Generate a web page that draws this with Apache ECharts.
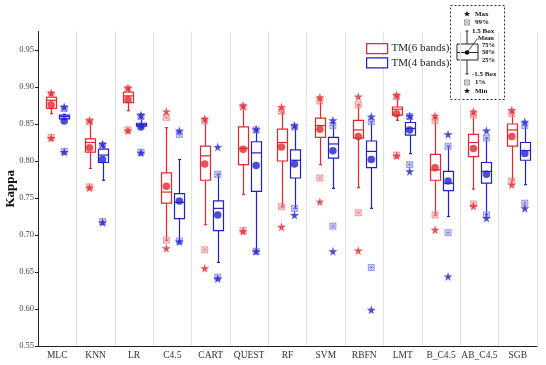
<!DOCTYPE html>
<html>
<head>
<meta charset="utf-8">
<script src="https://cdn.jsdelivr.net/npm/echarts@6/dist/echarts.min.js"></script>
<style>html,body{margin:0;padding:0;background:#fff}#c{width:546px;height:365px}</style>
</head>
<body>
<div id="c"></div>
<script>
const categories = ['MLC','KNN','LR','C4.5','CART','QUEST','RF','SVM','RBFN','LMT','B_C4.5','AB_C4.5','SGB'];
const yTicks = [0.55,0.60,0.65,0.70,0.75,0.80,0.85,0.90,0.95];

// TM(6 bands)
const tm6Low  = [0.864, 0.790, 0.868, 0.693, 0.714, 0.755, 0.738, 0.795, 0.764, 0.855, 0.727, 0.762, 0.774];
const tm6Q1   = [0.871, 0.812, 0.879, 0.743, 0.774, 0.795, 0.800, 0.832, 0.831, 0.862, 0.774, 0.806, 0.820];
const tm6Med  = [0.882, 0.825, 0.888, 0.758, 0.807, 0.817, 0.825, 0.848, 0.842, 0.870, 0.788, 0.825, 0.842];
const tm6Q3   = [0.886, 0.830, 0.893, 0.784, 0.820, 0.846, 0.843, 0.858, 0.855, 0.873, 0.809, 0.836, 0.850];
const tm6High = [0.889, 0.852, 0.897, 0.845, 0.855, 0.873, 0.866, 0.882, 0.876, 0.887, 0.858, 0.864, 0.866];
const tm6Mean = [0.876, 0.818, 0.883, 0.766, 0.796, 0.816, 0.819, 0.843, 0.833, 0.864, 0.791, 0.817, 0.833];
const tm6Max  = [0.892, 0.855, 0.899, 0.867, 0.857, 0.875, 0.873, 0.886, 0.887, 0.889, 0.861, 0.867, 0.869];
const tm6P99  = [0.890, 0.853, 0.897, 0.859, 0.854, 0.873, 0.867, 0.881, 0.876, 0.887, 0.855, 0.862, 0.864];
const tm6P1   = [0.832, 0.765, 0.842, 0.693, 0.680, 0.706, 0.738, 0.777, 0.730, 0.808, 0.727, 0.742, 0.773];
const tm6Min  = [0.831, 0.764, 0.841, 0.682, 0.655, 0.705, 0.711, 0.745, 0.679, 0.807, 0.707, 0.739, 0.768];

// TM(4 bands)
const tm4Low  = [0.856, 0.774, 0.845, 0.692, 0.663, 0.678, 0.736, 0.763, 0.736, 0.810, 0.725, 0.728, 0.768];
const tm4Q1   = [0.857, 0.798, 0.847, 0.722, 0.706, 0.759, 0.777, 0.804, 0.791, 0.835, 0.760, 0.770, 0.801];
const tm4Med  = [0.860, 0.808, 0.849, 0.744, 0.736, 0.811, 0.801, 0.823, 0.813, 0.844, 0.770, 0.786, 0.814];
const tm4Q3   = [0.862, 0.816, 0.851, 0.756, 0.746, 0.826, 0.815, 0.832, 0.827, 0.852, 0.786, 0.798, 0.825];
const tm4High = [0.863, 0.819, 0.858, 0.802, 0.782, 0.842, 0.846, 0.852, 0.853, 0.859, 0.820, 0.831, 0.848];
const tm4Mean = [0.854, 0.802, 0.846, 0.746, 0.727, 0.794, 0.796, 0.814, 0.802, 0.842, 0.773, 0.782, 0.810];
const tm4Max  = [0.873, 0.823, 0.862, 0.841, 0.819, 0.843, 0.848, 0.855, 0.860, 0.861, 0.836, 0.841, 0.853];
const tm4P99  = [0.871, 0.821, 0.860, 0.836, 0.782, 0.842, 0.846, 0.848, 0.853, 0.860, 0.820, 0.831, 0.848];
const tm4P1   = [0.813, 0.718, 0.812, 0.692, 0.643, 0.678, 0.736, 0.712, 0.656, 0.795, 0.703, 0.727, 0.743];
const tm4Min  = [0.812, 0.717, 0.811, 0.691, 0.641, 0.678, 0.727, 0.678, 0.599, 0.786, 0.644, 0.723, 0.736];

const FONT = "'Liberation Serif','Times New Roman',serif";
const RED = '#e4262c', RED_L = '#f07a7e', BLUE = '#1f1fd0', BLUE_L = '#7474ee';
const DX6 = -6, DX4 = 7;
const STAR = 'path://M50,0 L61,35 L98,35 L68,57 L79,91 L50,70 L21,91 L32,57 L2,35 L39,35 Z';
const BOXX = 'path://M1,1 L9,1 L9,9 L1,9 Z M1,1 L9,9 M9,1 L1,9 M5,1 L5,9 M1,5 L9,5';

function boxData(lo, q1, med, q3, hi) {
  return categories.map((c, i) => [i, lo[i], q1[i], med[i], q3[i], hi[i]]);
}
function pts(arr) { return arr.map((v, i) => [i, v]); }

function makeRender(dx, color) {
  return function (params, api) {
    const i = api.value(0);
    const lo = api.coord([i, api.value(1)]);
    const q1 = api.coord([i, api.value(2)]);
    const md = api.coord([i, api.value(3)]);
    const q3 = api.coord([i, api.value(4)]);
    const hi = api.coord([i, api.value(5)]);
    const x = Math.round(lo[0] + dx) + 0.5;
    const hw = 5;
    const st = { stroke: color, lineWidth: 1.2, fill: null };
    return {
      type: 'group',
      children: [
        { type: 'line', shape: { x1: x, y1: hi[1], x2: x, y2: q3[1] }, style: st },
        { type: 'line', shape: { x1: x, y1: q1[1], x2: x, y2: lo[1] }, style: st },
        { type: 'line', shape: { x1: x - 1.5, y1: hi[1], x2: x + 1.5, y2: hi[1] }, style: st },
        { type: 'line', shape: { x1: x - 1.5, y1: lo[1], x2: x + 1.5, y2: lo[1] }, style: st },
        { type: 'rect', shape: { x: x - hw, y: q3[1], width: 2 * hw, height: q1[1] - q3[1] }, style: { stroke: color, lineWidth: 1.2, fill: 'rgba(255,255,255,0)' } },
        { type: 'line', shape: { x1: x - hw, y1: md[1], x2: x + hw, y2: md[1] }, style: st }
      ]
    };
  };
}

function scatter(name, data, symbol, size, dx, style, z) {
  return {
    name: name, type: 'scatter', data: pts(data), symbol: symbol, symbolSize: size,
    symbolOffset: [dx, 0], itemStyle: style, z: z || 3, silent: true
  };
}

// inset legend graphic (explanatory key)
function starPts(cx, cy, r) {
  const p = [];
  for (let k = 0; k < 10; k++) {
    const a = -Math.PI / 2 + k * Math.PI / 5;
    const rr = k % 2 === 0 ? r : r * 0.42;
    p.push([cx + rr * Math.cos(a), cy + rr * Math.sin(a)]);
  }
  return p;
}
const keyX = 467;
const keyTxt = (t, x, y) => ({ type: 'text', x: x, y: y, style: { text: t, font: "bold 7px " + FONT, fill: '#111', textVerticalAlign: 'middle' } });
const boxx = (cx, cy) => ({
  type: 'group', children: [
    { type: 'rect', shape: { x: cx - 2.5, y: cy - 2.5, width: 5, height: 5 }, style: { stroke: '#888', fill: null, lineWidth: 0.8 } },
    { type: 'line', shape: { x1: cx - 2.5, y1: cy - 2.5, x2: cx + 2.5, y2: cy + 2.5 }, style: { stroke: '#888', lineWidth: 0.8 } },
    { type: 'line', shape: { x1: cx + 2.5, y1: cy - 2.5, x2: cx - 2.5, y2: cy + 2.5 }, style: { stroke: '#888', lineWidth: 0.8 } }
  ]
});
const keyGraphic = {
  type: 'group',
  children: [
    { type: 'rect', shape: { x: 450.5, y: 5.5, width: 54, height: 94 }, style: { stroke: '#333', fill: '#fff', lineWidth: 1, lineDash: [2, 2] } },
    { type: 'polygon', shape: { points: starPts(keyX, 14, 3.2) }, style: { fill: '#111' } },
    keyTxt('Max', 475, 14),
    boxx(keyX, 22.5),
    keyTxt('99%', 475, 22.5),
    { type: 'line', shape: { x1: keyX - 1.5, y1: 31, x2: keyX + 1.5, y2: 31 }, style: { stroke: '#222', lineWidth: 1 } },
    { type: 'line', shape: { x1: keyX, y1: 31, x2: keyX, y2: 44 }, style: { stroke: '#222', lineWidth: 1 } },
    keyTxt('1.5 Box', 472, 31),
    { type: 'rect', shape: { x: 457, y: 44, width: 21, height: 16 }, style: { stroke: '#222', fill: '#fff', lineWidth: 1 } },
    { type: 'line', shape: { x1: 457, y1: 52.5, x2: 478, y2: 52.5 }, style: { stroke: '#222', lineWidth: 1 } },
    { type: 'circle', shape: { cx: keyX, cy: 52.5, r: 2.3 }, style: { fill: '#111' } },
    { type: 'line', shape: { x1: keyX, y1: 52.5, x2: 477.5, y2: 38.5 }, style: { stroke: '#222', lineWidth: 0.8 } },
    { type: 'text', x: 478, y: 38, style: { text: 'Mean', font: "bold 6.5px " + FONT, fill: '#111', textVerticalAlign: 'middle' } },
    { type: 'text', x: 482, y: 45, style: { text: '75%', font: "bold 6.5px " + FONT, fill: '#111', textVerticalAlign: 'middle' } },
    { type: 'text', x: 482, y: 52.5, style: { text: '50%', font: "bold 6.5px " + FONT, fill: '#111', textVerticalAlign: 'middle' } },
    { type: 'text', x: 482, y: 60, style: { text: '25%', font: "bold 6.5px " + FONT, fill: '#111', textVerticalAlign: 'middle' } },
    { type: 'line', shape: { x1: keyX, y1: 60, x2: keyX, y2: 74 }, style: { stroke: '#222', lineWidth: 1 } },
    { type: 'line', shape: { x1: keyX - 1.5, y1: 74, x2: keyX + 1.5, y2: 74 }, style: { stroke: '#222', lineWidth: 1 } },
    keyTxt('-1.5 Box', 472, 74.5),
    boxx(keyX, 82.5),
    keyTxt('1%', 475, 82.5),
    { type: 'polygon', shape: { points: starPts(keyX, 91, 3.2) }, style: { fill: '#111' } },
    keyTxt('Min', 475, 91)
  ]
};

const chart = echarts.init(document.getElementById('c'), null, { renderer: 'canvas' });
chart.setOption({
  animation: false,
  backgroundColor: '#fff',
  textStyle: { fontFamily: FONT },
  grid: { left: 38, right: 9, top: 31.5, bottom: 19, containLabel: false, outerBoundsMode: 'none' },
  legend: {
    orient: 'vertical', left: 361, top: 38, itemWidth: 21, itemHeight: 10, itemGap: 3,
    textStyle: { fontFamily: FONT, fontSize: 11, color: '#222', padding: [0, 0, 0, -1] },
    data: [
      { name: 'TM(6 bands)', icon: 'rect', itemStyle: { color: '#fff', borderColor: RED, borderWidth: 1.2 } },
      { name: 'TM(4 bands)', icon: 'rect', itemStyle: { color: '#fff', borderColor: BLUE, borderWidth: 1.2 } }
    ],
    selectedMode: false
  },
  xAxis: {
    type: 'category', data: categories, boundaryGap: true,
    axisLine: { lineStyle: { color: '#222', width: 1 } },
    axisTick: { show: false },
    splitLine: { show: true, interval: 0, lineStyle: { color: '#e2e2e2', width: 1 } },
    axisLabel: { fontFamily: FONT, fontSize: 9.5, color: '#333', margin: 4, interval: 0 }
  },
  yAxis: {
    type: 'value', min: 0.55, max: 0.975, interval: 0.05,
    name: 'Kappa', nameLocation: 'middle', nameGap: 21, nameMoveOverlap: false,
    nameTextStyle: { fontFamily: FONT, fontSize: 13, fontWeight: 'bold', color: '#111' },
    axisLine: { show: true, lineStyle: { color: '#222', width: 1 } },
    axisTick: { show: true, length: 3, lineStyle: { color: '#222' } },
    splitLine: { show: false },
    axisLabel: {
      fontFamily: FONT, fontSize: 8.5, color: '#444', margin: 4, showMaxLabel: false,
      formatter: v => (yTicks.some(t => Math.abs(t - v) < 1e-6) ? v.toFixed(2) : '')
    }
  },
  graphic: [keyGraphic],
  series: [
    { name: 'TM(6 bands)', type: 'custom', renderItem: makeRender(DX6, RED), data: boxData(tm6Low, tm6Q1, tm6Med, tm6Q3, tm6High), encode: { x: 0, y: [1, 2, 3, 4, 5] }, z: 2, itemStyle: { color: RED }, silent: true },
    { name: 'TM(4 bands)', type: 'custom', renderItem: makeRender(DX4, BLUE), data: boxData(tm4Low, tm4Q1, tm4Med, tm4Q3, tm4High), encode: { x: 0, y: [1, 2, 3, 4, 5] }, z: 2, itemStyle: { color: BLUE }, silent: true },
    scatter('6 p99', tm6P99, BOXX, 6, DX6, { color: 'rgba(0,0,0,0)', borderColor: RED_L, borderWidth: 0.9 }),
    scatter('6 p1', tm6P1, BOXX, 6, DX6, { color: 'rgba(0,0,0,0)', borderColor: RED_L, borderWidth: 0.9 }),
    scatter('4 p99', tm4P99, BOXX, 6, DX4, { color: 'rgba(0,0,0,0)', borderColor: BLUE_L, borderWidth: 0.9 }),
    scatter('4 p1', tm4P1, BOXX, 6, DX4, { color: 'rgba(0,0,0,0)', borderColor: BLUE_L, borderWidth: 0.9 }),
    scatter('6 max', tm6Max, STAR, 9, DX6, { color: RED }, 4),
    scatter('6 min', tm6Min, STAR, 9, DX6, { color: RED }, 4),
    scatter('4 max', tm4Max, STAR, 9, DX4, { color: BLUE }, 4),
    scatter('4 min', tm4Min, STAR, 9, DX4, { color: BLUE }, 4),
    scatter('6 mean', tm6Mean, 'circle', 7.5, DX6, { color: RED }, 5),
    scatter('4 mean', tm4Mean, 'circle', 7.5, DX4, { color: BLUE }, 5)
  ]
});
</script>
</body>
</html>
